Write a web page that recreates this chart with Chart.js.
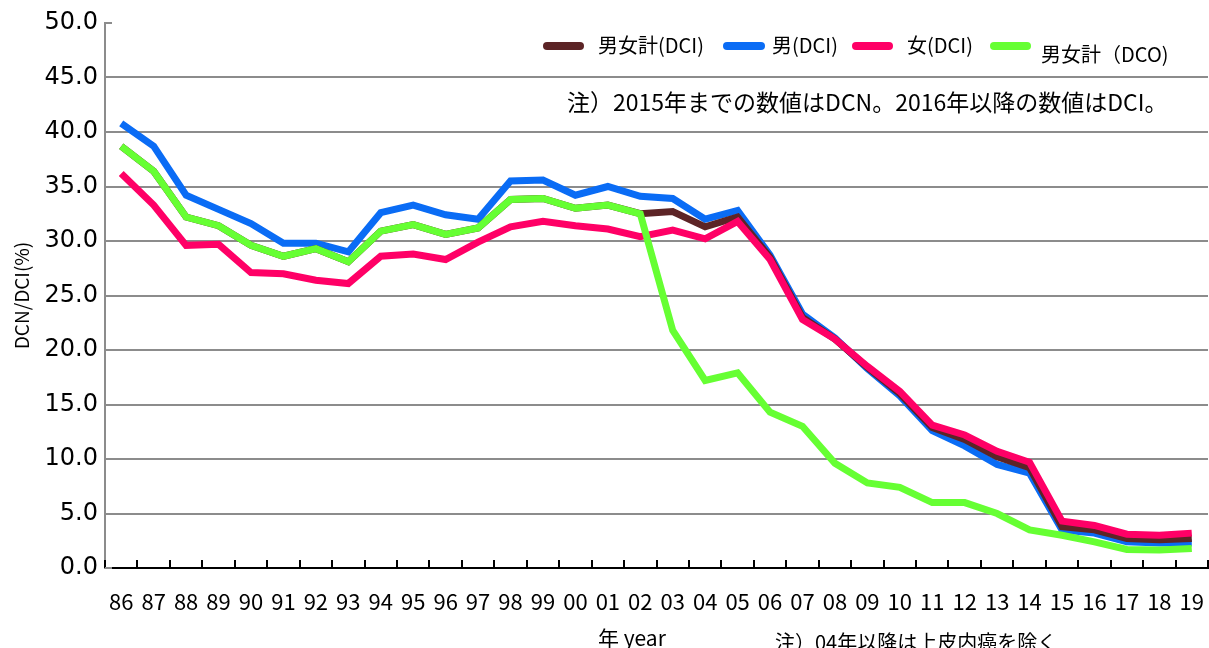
<!DOCTYPE html>
<html lang="ja">
<head>
<meta charset="UTF-8">
<title>DCN/DCI</title>
<script src="https://cdn.jsdelivr.net/npm/chart.js@4.4.0/dist/chart.umd.min.js"></script>
<style>
  html, body { margin: 0; padding: 0; background: #fff; }
  #wrap { position: relative; width: 1209px; height: 648px; overflow: hidden; font-family: "Noto Sans CJK JP", sans-serif; }
  .txt { position: absolute; white-space: nowrap; line-height: 1; color: #000; }
  .sw { position: absolute; height: 8px; border-radius: 4px; }
</style>
</head>
<body>
<div id="wrap">
  <canvas id="c" width="1209" height="648"></canvas>
  <div class="txt" style="left:567px; top:90px; font-size:23px;">注）2015年までの数値はDCN。2016年以降の数値はDCI。</div>
  <div class="txt" style="left:598px; top:627px; font-size:21px;">年 year</div>
  <div class="txt" style="left:775px; top:632px; font-size:20px;">注）04年以降は上皮内癌を除く</div>
</div>
<script>
const years = ['86','87','88','89','90','91','92','93','94','95','96','97','98','99',
               '00','01','02','03','04','05','06','07','08','09','10','11','12','13',
               '14','15','16','17','18','19'];

// 男女計 (DCI)
const totalDCI = [38.7, 36.4, 32.2, 31.4, 29.6, 28.6, 29.3, 28.1, 30.9, 31.5, 30.6, 31.2, 33.8, 33.9,
                  33.0, 33.3, 32.5, 32.7, 31.3, 32.2, 28.5, 23.0, 21.0, 18.4, 16.0, 12.9, 11.8, 10.2,
                  9.2, 3.8, 3.5, 2.7, 2.6, 2.7];
// 男 (DCI)
const maleDCI = [40.8, 38.7, 34.2, 32.9, 31.6, 29.8, 29.8, 29.0, 32.6, 33.3, 32.4, 32.0, 35.5, 35.6,
                 34.2, 35.0, 34.1, 33.9, 32.0, 32.8, 28.7, 23.3, 21.1, 18.3, 15.8, 12.6, 11.2, 9.5,
                 8.7, 3.5, 3.2, 2.4, 2.3, 2.3];
// 女 (DCI)
const femaleDCI = [36.2, 33.3, 29.6, 29.7, 27.1, 27.0, 26.4, 26.1, 28.6, 28.8, 28.3, 29.9, 31.3, 31.8,
                   31.4, 31.1, 30.4, 31.0, 30.2, 31.8, 28.3, 22.8, 21.0, 18.5, 16.2, 13.1, 12.2, 10.7,
                   9.7, 4.3, 3.9, 3.1, 3.0, 3.2];
// 男女計 (DCO)
const totalDCO = [38.7, 36.4, 32.2, 31.4, 29.6, 28.6, 29.3, 28.1, 30.9, 31.5, 30.6, 31.2, 33.8, 33.9,
                  33.0, 33.3, 32.5, 21.8, 17.2, 17.9, 14.3, 13.0, 9.6, 7.8, 7.4, 6.0, 6.0, 5.0,
                  3.5, 3.0, 2.4, 1.7, 1.65, 1.8];

const yTicks = [0, 5, 10, 15, 20, 25, 30, 35, 40, 45, 50];

// legend layout (swatch left/right, label left, label centre y)
const legendItems = [
  { label: '男女計(DCI)',  sx: 543, ex: 584, y: 46, tx: 598,  ty: 46 },
  { label: '男(DCI)',      sx: 723, ex: 765, y: 46, tx: 772,  ty: 46 },
  { label: '女(DCI)',      sx: 852, ex: 893, y: 46, tx: 907,  ty: 46 },
  { label: '男女計（DCO)', sx: 990, ex: 1031, y: 46, tx: 1041, ty: 55 }
];

const colors = ['#5c2426', '#0a6cf5', '#ff0066', '#66ff33'];

// tick marks pointing into the plot
const innerTicks = {
  id: 'innerTicks',
  afterDraw(chart) {
    const { ctx, chartArea: a, scales: { x, y } } = chart;
    ctx.save();
    ctx.lineWidth = 2;
    ctx.strokeStyle = '#000';
    ctx.beginPath();
    for (let i = 0; i <= years.length; i++) {
      let px;
      if (i === 0) px = a.left;
      else if (i === years.length) px = a.right;
      else px = (x.getPixelForValue(i - 1) + x.getPixelForValue(i)) / 2;
      px = Math.round(px);
      ctx.moveTo(px, a.bottom);
      ctx.lineTo(px, a.bottom - 8);
    }
    ctx.stroke();
    ctx.strokeStyle = '#8c8c8c';
    ctx.beginPath();
    y.ticks.forEach(t => {
      const py = Math.round(y.getPixelForValue(t.value));
      ctx.moveTo(a.left, py);
      ctx.lineTo(a.left + 7, py);
    });
    ctx.stroke();
    ctx.restore();
  }
};

const chart = new Chart('c', {
  type: 'line',
  data: {
    labels: years,
    datasets: [
      { label: legendItems[0].label, data: totalDCI,  borderColor: colors[0], order: 2 },
      { label: legendItems[1].label, data: maleDCI,   borderColor: colors[1], order: 3 },
      { label: legendItems[2].label, data: femaleDCI, borderColor: colors[2], order: 1 },
      { label: legendItems[3].label, data: totalDCO,  borderColor: colors[3], order: 0 }
    ]
  },
  options: {
    responsive: false,
    animation: false,
    layout: { padding: { top: 23, right: 1, left: 0, bottom: 0 } },
    elements: {
      line: { borderWidth: 7, tension: 0, fill: false },
      point: { radius: 0, hoverRadius: 0 }
    },
    plugins: {
      legend: { display: false },
      tooltip: { enabled: false }
    },
    scales: {
      x: {
        offset: true,
        grid: { display: false, drawTicks: false },
        border: { display: true, color: '#000', width: 2 },
        ticks: {
          color: '#000',
          padding: 20,
          maxRotation: 0,
          autoSkip: false,
          font: { family: '"Noto Sans CJK JP"', size: 22 }
        },
        afterFit(scale) {
          scale.height = 80;
          scale.paddingLeft = 0;
          scale.paddingRight = 0;
        }
      },
      y: {
        min: 0,
        max: 50,
        afterBuildTicks(scale) { scale.ticks = yTicks.map(v => ({ value: v })); },
        grid: {
          drawTicks: false,
          lineWidth: 2,
          color: c => (c.tick && (c.tick.value === 0 || c.tick.value === 50)) ? 'rgba(0,0,0,0)' : '#8c8c8c'
        },
        border: { display: true, color: '#8c8c8c', width: 2 },
        ticks: {
          color: '#000',
          padding: 7,
          font: { family: '"DejaVu Sans"', size: 24 },
          callback: v => Number(v).toFixed(1)
        },
        title: {
          display: true,
          text: 'DCN/DCI(%)',
          color: '#000',
          padding: { top: 10, bottom: 0 },
          font: { family: '"Noto Sans CJK JP"', size: 19 }
        },
        afterFit(scale) { scale.width = 105; }
      }
    }
  },
  plugins: [innerTicks]
});

// legend overlay built from the datasets
const wrap = document.getElementById('wrap');
legendItems.forEach((it, i) => {
  const sw = document.createElement('div');
  sw.className = 'sw';
  sw.style.left = it.sx + 'px';
  sw.style.width = (it.ex - it.sx) + 'px';
  sw.style.top = (it.y - 4) + 'px';
  sw.style.background = chart.data.datasets[i].borderColor;
  wrap.appendChild(sw);
  const tx = document.createElement('div');
  tx.className = 'txt';
  tx.style.fontSize = '20px';
  tx.style.left = it.tx + 'px';
  tx.style.top = (it.ty - 11) + 'px';
  tx.textContent = chart.data.datasets[i].label;
  wrap.appendChild(tx);
});
</script>
</body>
</html>
